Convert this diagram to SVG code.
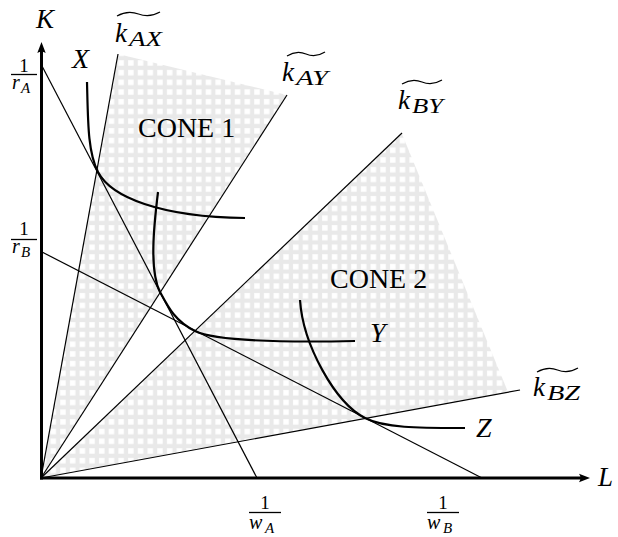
<svg xmlns="http://www.w3.org/2000/svg" width="618" height="537" viewBox="0 0 618 537">
<style>
.bg{fill:#ffffff}
.thin{stroke:#000;stroke-width:1.2;fill:none}
.axis{stroke:#000;stroke-width:3;fill:none}
.iso{stroke:#000;stroke-width:2.2;fill:none}
.tl{stroke:#000;stroke-width:1.2;fill:none}
.bar{stroke:#000;stroke-width:1.3}
.m{font-family:"Liberation Serif",serif;font-style:italic;fill:#000}
.r{font-family:"Liberation Serif",serif;fill:#000}
.shade{fill:url(#grid)}
</style>
<defs>
<pattern id="grid" patternUnits="userSpaceOnUse" x="0" y="0" width="9.7" height="9.7">
<rect width="9.7" height="9.7" fill="#e9e9e9"/>
<rect x="2" y="2" width="5.5" height="5.5" fill="#ffffff"/>
</pattern>
<marker id="arr" markerUnits="userSpaceOnUse" viewBox="-7 -5 13 10" refX="0" refY="0" markerWidth="13" markerHeight="10" orient="auto">
<path d="M5,0 L-6,-4.2 Q-3,0 -6,4.2 Z" fill="#000"/>
</marker>
</defs>
<rect class="bg" x="0" y="0" width="618" height="537"/>

<g id="cones">
<polygon id="cone1-area" class="shade" points="41,478 118,54 287,95"/>
<polygon id="cone2-area" class="shade" points="41,478 402,134 508,392"/>
</g>

<g id="connectors">
<line id="isocost-A" class="thin" x1="42" y1="66" x2="257" y2="478"/>
<line id="isocost-B" class="thin" x1="42" y1="252" x2="482" y2="478"/>
<line id="ray-AX" class="thin" x1="41" y1="478" x2="118" y2="54"/>
<line id="ray-AY" class="thin" x1="41" y1="478" x2="287" y2="95"/>
<line id="ray-BY" class="thin" x1="41" y1="478" x2="402" y2="133"/>
<line id="ray-BZ" class="thin" x1="41" y1="478" x2="520" y2="390"/>
</g>

<g id="isoquants">
<path id="iso-X" class="iso" d="M87,82 C88,120 87.6,152 98,172 C111,197 160,217 245,218"/>
<path id="iso-Y" class="iso" d="M158,192 C154,225 149,270 160,292 C168,307 175,321 195,331 C211,339 260,343 355,341"/>
<path id="iso-Z" class="iso" d="M300,300 C303,345 335,402.6 365,418 C385,428.3 420,428 465,428"/>
</g>

<g id="axes">
<line id="axis-K" class="axis" x1="41.5" y1="479.5" x2="41.5" y2="47" marker-end="url(#arr)"/>
<line id="axis-L" class="axis" x1="40" y1="478" x2="585" y2="478" marker-end="url(#arr)"/>
<text class="m" x="36" y="28" font-size="27">K</text>
<text class="m" x="598" y="486" font-size="27">L</text>
</g>

<g id="label-kAX">
<path class="tl" d="M117,16 Q127.5,10 138.5,14 Q149.5,18 160,12"/>
<text class="m" x="115" y="42" font-size="27">k</text>
<text class="m" x="129" y="46" font-size="20" textLength="33" lengthAdjust="spacingAndGlyphs">AX</text>
</g>
<g id="label-kAY">
<path class="tl" d="M287,56 Q296.5,50 306,54 Q315.5,58 325,52"/>
<text class="m" x="282" y="81" font-size="27">k</text>
<text class="m" x="296" y="85" font-size="20" textLength="32" lengthAdjust="spacingAndGlyphs">AY</text>
</g>
<g id="label-kBY">
<path class="tl" d="M402,84 Q412,78 422,82 Q432,86 442,80"/>
<text class="m" x="398" y="109" font-size="27">k</text>
<text class="m" x="412" y="113" font-size="20" textLength="31" lengthAdjust="spacingAndGlyphs">BY</text>
</g>
<g id="label-kBZ">
<path class="tl" d="M537,372 Q547.5,366 557.5,370 Q568,374 578,368"/>
<text class="m" x="533" y="396" font-size="27">k</text>
<text class="m" x="547" y="400" font-size="20" textLength="33" lengthAdjust="spacingAndGlyphs">BZ</text>
</g>

<g id="label-X"><text class="m" x="72" y="68" font-size="28">X</text></g>
<g id="label-Y"><text class="m" x="370" y="342" font-size="28">Y</text></g>
<g id="label-Z"><text class="m" x="476" y="437" font-size="28">Z</text></g>

<g id="label-cone1"><text class="r" x="138" y="137" font-size="28">CONE 1</text></g>
<g id="label-cone2"><text class="r" x="330" y="288" font-size="28">CONE 2</text></g>

<g id="frac-rA">
<text class="r" x="24" y="72" font-size="19" text-anchor="middle">1</text>
<line class="bar" x1="11" y1="74.5" x2="37" y2="74.5"/>
<text class="m" x="12" y="89" font-size="20">r</text>
<text class="m" x="21" y="93" font-size="15">A</text>
</g>
<g id="frac-rB">
<text class="r" x="24" y="235" font-size="19" text-anchor="middle">1</text>
<line class="bar" x1="11" y1="239.5" x2="37" y2="239.5"/>
<text class="m" x="12" y="253" font-size="20">r</text>
<text class="m" x="21" y="257" font-size="15">B</text>
</g>
<g id="frac-wA">
<text class="r" x="265" y="509" font-size="19" text-anchor="middle">1</text>
<line class="bar" x1="249" y1="512.5" x2="281" y2="512.5"/>
<text class="m" x="249" y="529" font-size="20">w</text>
<text class="m" x="265" y="533" font-size="15">A</text>
</g>
<g id="frac-wB">
<text class="r" x="443" y="509" font-size="19" text-anchor="middle">1</text>
<line class="bar" x1="427" y1="512.5" x2="459" y2="512.5"/>
<text class="m" x="427" y="529" font-size="20">w</text>
<text class="m" x="443" y="533" font-size="15">B</text>
</g>
</svg>
